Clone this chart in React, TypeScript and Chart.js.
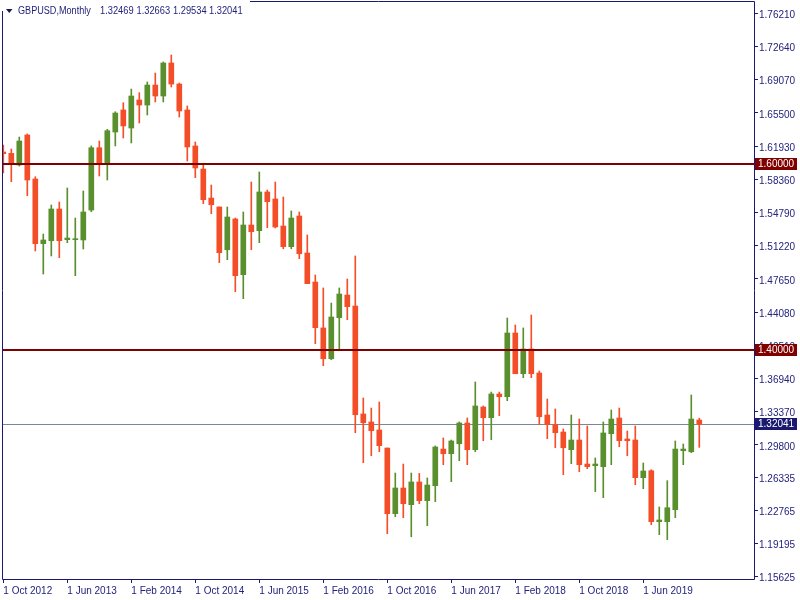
import { useEffect, useRef } from 'react';
import { Chart, registerables } from 'chart.js';

Chart.register(...registerables);

const opens = [
  1.6129, 1.6115, 1.5989, 1.6312, 1.5839, 1.5143, 1.5175, 1.5516, 1.5186, 1.5186,
  1.5183, 1.5505, 1.6175, 1.6011, 1.6344, 1.6581, 1.6387, 1.6688, 1.6634, 1.6849,
  1.6731, 1.7086, 1.6860, 1.6581, 1.6194, 1.5946, 1.5634, 1.5538, 1.5078, 1.5409,
  1.4810, 1.5344, 1.5283, 1.5699, 1.5624, 1.5333, 1.5111, 1.5441, 1.5043, 1.4731,
  1.4237, 1.3906, 1.4347, 1.4591, 1.4473, 1.3312, 1.3226, 1.3140, 1.2946, 1.2240,
  1.2516, 1.2337, 1.2581, 1.2380, 1.2541, 1.2935, 1.2885, 1.2992, 1.3215, 1.2928,
  1.3387, 1.3272, 1.3527, 1.3498, 1.4183, 1.3745, 1.4011, 1.3753, 1.3301, 1.3197,
  1.3118, 1.2928, 1.3032, 1.2774, 1.2756, 1.2745, 1.3100, 1.3269, 1.3043, 1.3032,
  1.2627, 1.2702, 1.2154, 1.2154, 1.2283, 1.2917, 1.2906, 1.32469,
];
const highs = [
  1.6204, 1.6161, 1.6290, 1.6323, 1.5863, 1.5247, 1.5559, 1.5591, 1.5742, 1.5419,
  1.5710, 1.6194, 1.6247, 1.6373, 1.6562, 1.6659, 1.6806, 1.6767, 1.6882, 1.6978,
  1.7097, 1.7172, 1.6871, 1.6624, 1.6237, 1.6008, 1.5774, 1.5538, 1.5538, 1.5419,
  1.5484, 1.5806, 1.5914, 1.5720, 1.5806, 1.5645, 1.5495, 1.5484, 1.5237, 1.4806,
  1.4667, 1.4505, 1.4667, 1.4763, 1.5011, 1.3484, 1.3376, 1.3441, 1.2946, 1.2677,
  1.2774, 1.2677, 1.2673, 1.2624, 1.2968, 1.3054, 1.3032, 1.3226, 1.3269, 1.3656,
  1.3398, 1.3548, 1.3548, 1.4344, 1.4269, 1.4237, 1.4376, 1.3774, 1.3473, 1.3366,
  1.3151, 1.3301, 1.3258, 1.3183, 1.2839, 1.3226, 1.3355, 1.3376, 1.3129, 1.3183,
  1.2785, 1.2713, 1.2312, 1.2595, 1.3022, 1.2989, 1.3516, 1.32663,
];
const lows = [
  1.5903, 1.5810, 1.5978, 1.5659, 1.5065, 1.4817, 1.5011, 1.4992, 1.5154, 1.4799,
  1.5086, 1.5487, 1.5871, 1.5828, 1.6194, 1.6280, 1.6226, 1.6441, 1.6527, 1.6667,
  1.6667, 1.6828, 1.6505, 1.6032, 1.5853, 1.5573, 1.5466, 1.4939, 1.4971, 1.4627,
  1.4552, 1.5078, 1.5154, 1.5315, 1.5312, 1.5089, 1.5089, 1.4982, 1.4713, 1.4068,
  1.3831, 1.3896, 1.3992, 1.4326, 1.3111, 1.2788, 1.2863, 1.2906, 1.2025, 1.2208,
  1.2197, 1.1992, 1.2347, 1.2111, 1.2369, 1.2767, 1.2584, 1.2810, 1.2767, 1.2906,
  1.3025, 1.3035, 1.3294, 1.3455, 1.3745, 1.3702, 1.3702, 1.3197, 1.3046, 1.2949,
  1.2659, 1.2777, 1.2691, 1.2724, 1.2476, 1.2412, 1.2767, 1.2960, 1.2863, 1.2552,
  1.2509, 1.2122, 1.2014, 1.1960, 1.2197, 1.2767, 1.2896, 1.29534,
];
const closes = [
  1.6111, 1.6000, 1.6247, 1.5828, 1.5143, 1.5183, 1.5516, 1.5175, 1.5204, 1.5194,
  1.5484, 1.6175, 1.6011, 1.6358, 1.6548, 1.6409, 1.6731, 1.6634, 1.6849, 1.6731,
  1.7086, 1.6860, 1.6570, 1.6183, 1.5957, 1.5616, 1.5562, 1.5046, 1.5430, 1.4799,
  1.5344, 1.5272, 1.5699, 1.5595, 1.5323, 1.5111, 1.5419, 1.5035, 1.4713, 1.4240,
  1.3906, 1.4355, 1.4602, 1.4466, 1.3304, 1.3218, 1.3132, 1.2971, 1.2240, 1.2516,
  1.2347, 1.2581, 1.2380, 1.2548, 1.2957, 1.2885, 1.3022, 1.3215, 1.2928, 1.3398,
  1.3272, 1.3527, 1.3498, 1.4183, 1.3745, 1.4011, 1.3745, 1.3283, 1.3197, 1.3111,
  1.2949, 1.3032, 1.2767, 1.2745, 1.2774, 1.3108, 1.3258, 1.3025, 1.3025, 1.2627,
  1.2699, 1.2154, 1.2172, 1.2304, 1.2935, 1.2935, 1.3258, 1.32041,
];

const yTickValues = [
  1.7621, 1.7264, 1.6907, 1.655, 1.6193, 1.5836, 1.5479, 1.5122, 1.4765,
  1.4408, 1.4051, 1.3694, 1.3337, 1.298, 1.26335, 1.22765, 1.19195, 1.15625,
];
const xTickIndex = [0, 8, 16, 24, 32, 40, 48, 56, 64, 72, 80];
const xTickLabels = [
  '1 Oct 2012', '1 Jun 2013', '1 Feb 2014', '1 Oct 2014', '1 Jun 2015', '1 Feb 2016',
  '1 Oct 2016', '1 Jun 2017', '1 Feb 2018', '1 Oct 2018', '1 Jun 2019',
];
const levelLines = [1.6, 1.4];
const lastPrice = 1.32041;
const titleSymbol = 'GBPUSD,Monthly';
const titleValues = ['1.32469', '1.32663', '1.29534', '1.32041'];

const UP = '#5a8f2e';
const DOWN = '#f44e28';
const NAVY = '#191970';
const TEXT = '#23237d';
const FONT = 'Liberation Sans';

const noPad = (s: any) => {
  s.paddingTop = 0;
  s.paddingBottom = 0;
  s.paddingLeft = 0;
  s.paddingRight = 0;
};

export default function App() {
  const ref = useRef<HTMLCanvasElement | null>(null);

  useEffect(() => {
    const canvas = ref.current;
    if (!canvas) return;
    const colorOf = (i: number) => (closes[i] >= opens[i] ? UP : DOWN);

    const overlay = {
      id: 'mt4overlay',
      beforeDatasetsDraw(chart: any) {
        const { ctx, chartArea } = chart;
        const y = Math.round(chart.scales.y.getPixelForValue(lastPrice)) + 0.5;
        ctx.save();
        ctx.strokeStyle = '#778899';
        ctx.lineWidth = 1;
        ctx.beginPath();
        ctx.moveTo(chartArea.left, y);
        ctx.lineTo(chartArea.right, y);
        ctx.stroke();
        ctx.restore();
      },
      afterDatasetsDraw(chart: any) {
        const { ctx, chartArea } = chart;
        ctx.save();
        ctx.strokeStyle = '#800000';
        ctx.lineWidth = 2;
        levelLines.forEach((v) => {
          const y = Math.round(chart.scales.y.getPixelForValue(v));
          ctx.beginPath();
          ctx.moveTo(chartArea.left, y);
          ctx.lineTo(chartArea.right, y);
          ctx.stroke();
        });
        ctx.restore();
      },
      afterDraw(chart: any) {
        const { ctx, chartArea } = chart;
        const L = chartArea.left - 0.5;
        const R = chartArea.right + 0.5;
        const T = chartArea.top - 0.5;
        const B = chartArea.bottom + 0.5;
        ctx.save();
        ctx.strokeStyle = NAVY;
        ctx.lineWidth = 1;
        ctx.beginPath();
        ctx.moveTo(L, T);
        ctx.lineTo(R, T);
        ctx.lineTo(R, B);
        ctx.lineTo(L, B);
        ctx.closePath();
        ctx.stroke();

        ctx.font = `10px "${FONT}"`;
        ctx.textBaseline = 'middle';
        ctx.textAlign = 'left';
        const boxes: [number, string][] = [
          ...levelLines.map((v) => [v, '#800000'] as [number, string]),
          [lastPrice, NAVY],
        ];
        boxes.forEach(([v, bg]) => {
          const y = Math.round(chart.scales.y.getPixelForValue(v));
          ctx.fillStyle = bg;
          ctx.fillRect(chartArea.right + 1, y - 6, 42, 12);
          ctx.fillStyle = '#ffffff';
          ctx.fillText(v.toFixed(5), chartArea.right + 4, y + 0.5);
        });

        // title
        ctx.fillStyle = '#ffffff';
        ctx.fillRect(0, 0, 250, 11);
        ctx.fillStyle = '#1a1a50';
        ctx.beginPath();
        ctx.moveTo(6, 9);
        ctx.lineTo(12.5, 9);
        ctx.lineTo(9.25, 13);
        ctx.closePath();
        ctx.fill();
        ctx.fillStyle = TEXT;
        ctx.font = `10px "${FONT}"`;
        ctx.textBaseline = 'middle';
        const drawSquished = (t: string, x: number, sx: number) => {
          ctx.save();
          ctx.translate(x, 11);
          ctx.scale(sx, 1);
          ctx.fillText(t, 0, 0);
          ctx.restore();
        };
        drawSquished(titleSymbol, 18, 0.91);
        const xs = [100, 136.5, 173, 209];
        titleValues.forEach((t, i) => drawSquished(t, xs[i], 0.93));
        ctx.restore();
      },
    };

    const chart = new Chart(canvas, {
      type: 'bar',
      data: {
        datasets: [
          {
            label: 'body',
            data: opens.map((o, i) => ({ x: i, y: [o, closes[i]] })) as any,
            backgroundColor: (c: any) => colorOf(c.dataIndex),
            borderWidth: 0,
            barThickness: 5,
            minBarLength: 1,
            grouped: false,
          } as any,
          {
            label: 'wick',
            data: lows.map((l, i) => ({ x: i, y: [l, highs[i]] })) as any,
            backgroundColor: (c: any) => colorOf(c.dataIndex),
            borderWidth: 0,
            barThickness: 1,
            grouped: false,
          } as any,
        ],
      },
      options: {
        responsive: false,
        animation: false,
        layout: { padding: { left: 3, top: 2, right: 0, bottom: 0 } },
        plugins: {
          legend: { display: false },
          tooltip: { enabled: false },
          title: { display: false },
        },
        scales: {
          x: {
            type: 'linear',
            position: 'bottom',
            offset: false,
            min: -0.0375,
            max: 93.84,
            afterFit: (s: any) => {
              s.height = 21;
              noPad(s);
            },
            afterBuildTicks: (s: any) => {
              s.ticks = xTickIndex.map((v) => ({ value: v }));
            },
            ticks: {
              autoSkip: false,
              maxRotation: 0,
              minRotation: 0,
              align: 'start',
              padding: 2,
              color: TEXT,
              font: { family: FONT, size: 10 },
              callback: (v: any) => {
                const i = xTickIndex.indexOf(Number(v));
                return i >= 0 ? xTickLabels[i] : '';
              },
            },
            grid: {
              display: true,
              offset: false,
              drawOnChartArea: false,
              drawTicks: true,
              tickLength: 4,
              color: NAVY,
            },
            border: { display: false },
          },
          y: {
            type: 'linear',
            position: 'right',
            min: 1.153763,
            max: 1.77419,
            afterFit: (s: any) => {
              s.width = 46;
              noPad(s);
            },
            afterBuildTicks: (s: any) => {
              s.ticks = yTickValues.map((v) => ({ value: v }));
            },
            ticks: {
              autoSkip: false,
              padding: 1,
              labelOffset: 2,
              color: TEXT,
              font: { family: FONT, size: 10 },
              callback: (v: any) => Number(v).toFixed(5),
            },
            grid: {
              display: true,
              drawOnChartArea: false,
              drawTicks: true,
              tickLength: 4,
              color: NAVY,
            },
            border: { display: false },
          },
        },
      } as any,
      plugins: [overlay],
    });

    return () => chart.destroy();
  }, []);

  return (
    <div style={{ position: 'absolute', left: 0, top: 0, width: 800, height: 600, background: '#fff' }}>
      <canvas ref={ref} width={800} height={600} style={{ display: 'block' }} />
    </div>
  );
}
